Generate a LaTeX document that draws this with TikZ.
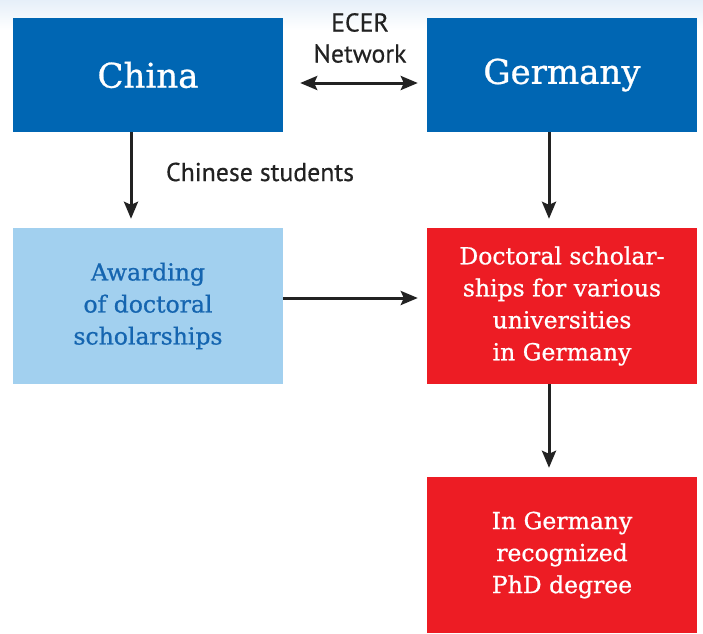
\documentclass[tikz,border=0pt]{standalone}
\usepackage{fontspec}
\setmainfont[FakeBold=0.8,UprightFeatures={FakeBold=0.8}]{DejaVu Serif}
\newfontfamily\labelfont[UprightFeatures={FakeBold=0.4}]{PT Sans}
\usetikzlibrary{arrows.meta}
\definecolor{dblue}{HTML}{0066B3}
\definecolor{lblue}{HTML}{A2D0EF}
\definecolor{txtblue}{HTML}{1565B0}
\definecolor{dred}{HTML}{ED1C24}
\definecolor{bgtop}{HTML}{E6EFF9}
\definecolor{arrcol}{HTML}{222222}
\tikzset{
  box/.style={rectangle, inner sep=0pt, minimum width=270pt, align=center},
  topbox/.style={box, fill=dblue, minimum height=114pt, text=white, font=\fontsize{34}{40}\selectfont},
  lightbox/.style={box, fill=lblue, minimum height=156pt, text=txtblue, font=\fontsize{23.5}{32}\selectfont},
  redbox/.style={box, fill=dred, minimum height=156pt, text=white, font=\fontsize{23.5}{32}\selectfont},
  lbl/.style={text=arrcol, align=center, font=\labelfont\fontsize{25.8}{31}\selectfont},
  arr/.style={draw=arrcol, line width=3pt, -{Stealth[length=17pt,width=14pt,inset=3pt]}},
  darr/.style={draw=arrcol, line width=3pt, {Stealth[length=17pt,width=14pt,inset=3pt]}-{Stealth[length=17pt,width=14pt,inset=3pt]}}
}
\begin{document}
\begin{tikzpicture}[x=1pt,y=-1pt]
\useasboundingbox (0,0) rectangle (703,633);
\shade[top color=bgtop, bottom color=white] (0,0) rectangle (703,30);
\node[topbox] (china) at (148,75) {China};
\node[topbox] (germany) at (562,75) {Germany};
\node[lightbox] (award) at (148,306) {Awarding\\of doctoral\\scholarships};
\node[redbox] (doc) at (562,306) {Doctoral scholar-\\ships for various\\universities\\in Germany};
\node[redbox] (phd) at (562,555) {In Germany\\recognized\\PhD degree};
\node[lbl] (ecer) at (360,38) {ECER\\Network};
\node[lbl] (students) at (260,172) {Chinese students};
\draw[darr, shorten <=17pt, shorten >=9pt] ([yshift=-8pt]china.east) -- ([yshift=-8pt]germany.west);
\draw[arr, shorten >=9pt] ([xshift=-17pt]china.south) -- ([xshift=-17pt]award.north);
\draw[arr, shorten >=9pt] ([xshift=-13pt]germany.south) -- ([xshift=-13pt]doc.north);
\draw[arr, shorten >=9pt] ([yshift=8pt]award.east) -- ([yshift=8pt]doc.west);
\draw[arr, shorten >=9pt] ([xshift=-13pt]doc.south) -- ([xshift=-13pt]phd.north);
\end{tikzpicture}
\end{document}
